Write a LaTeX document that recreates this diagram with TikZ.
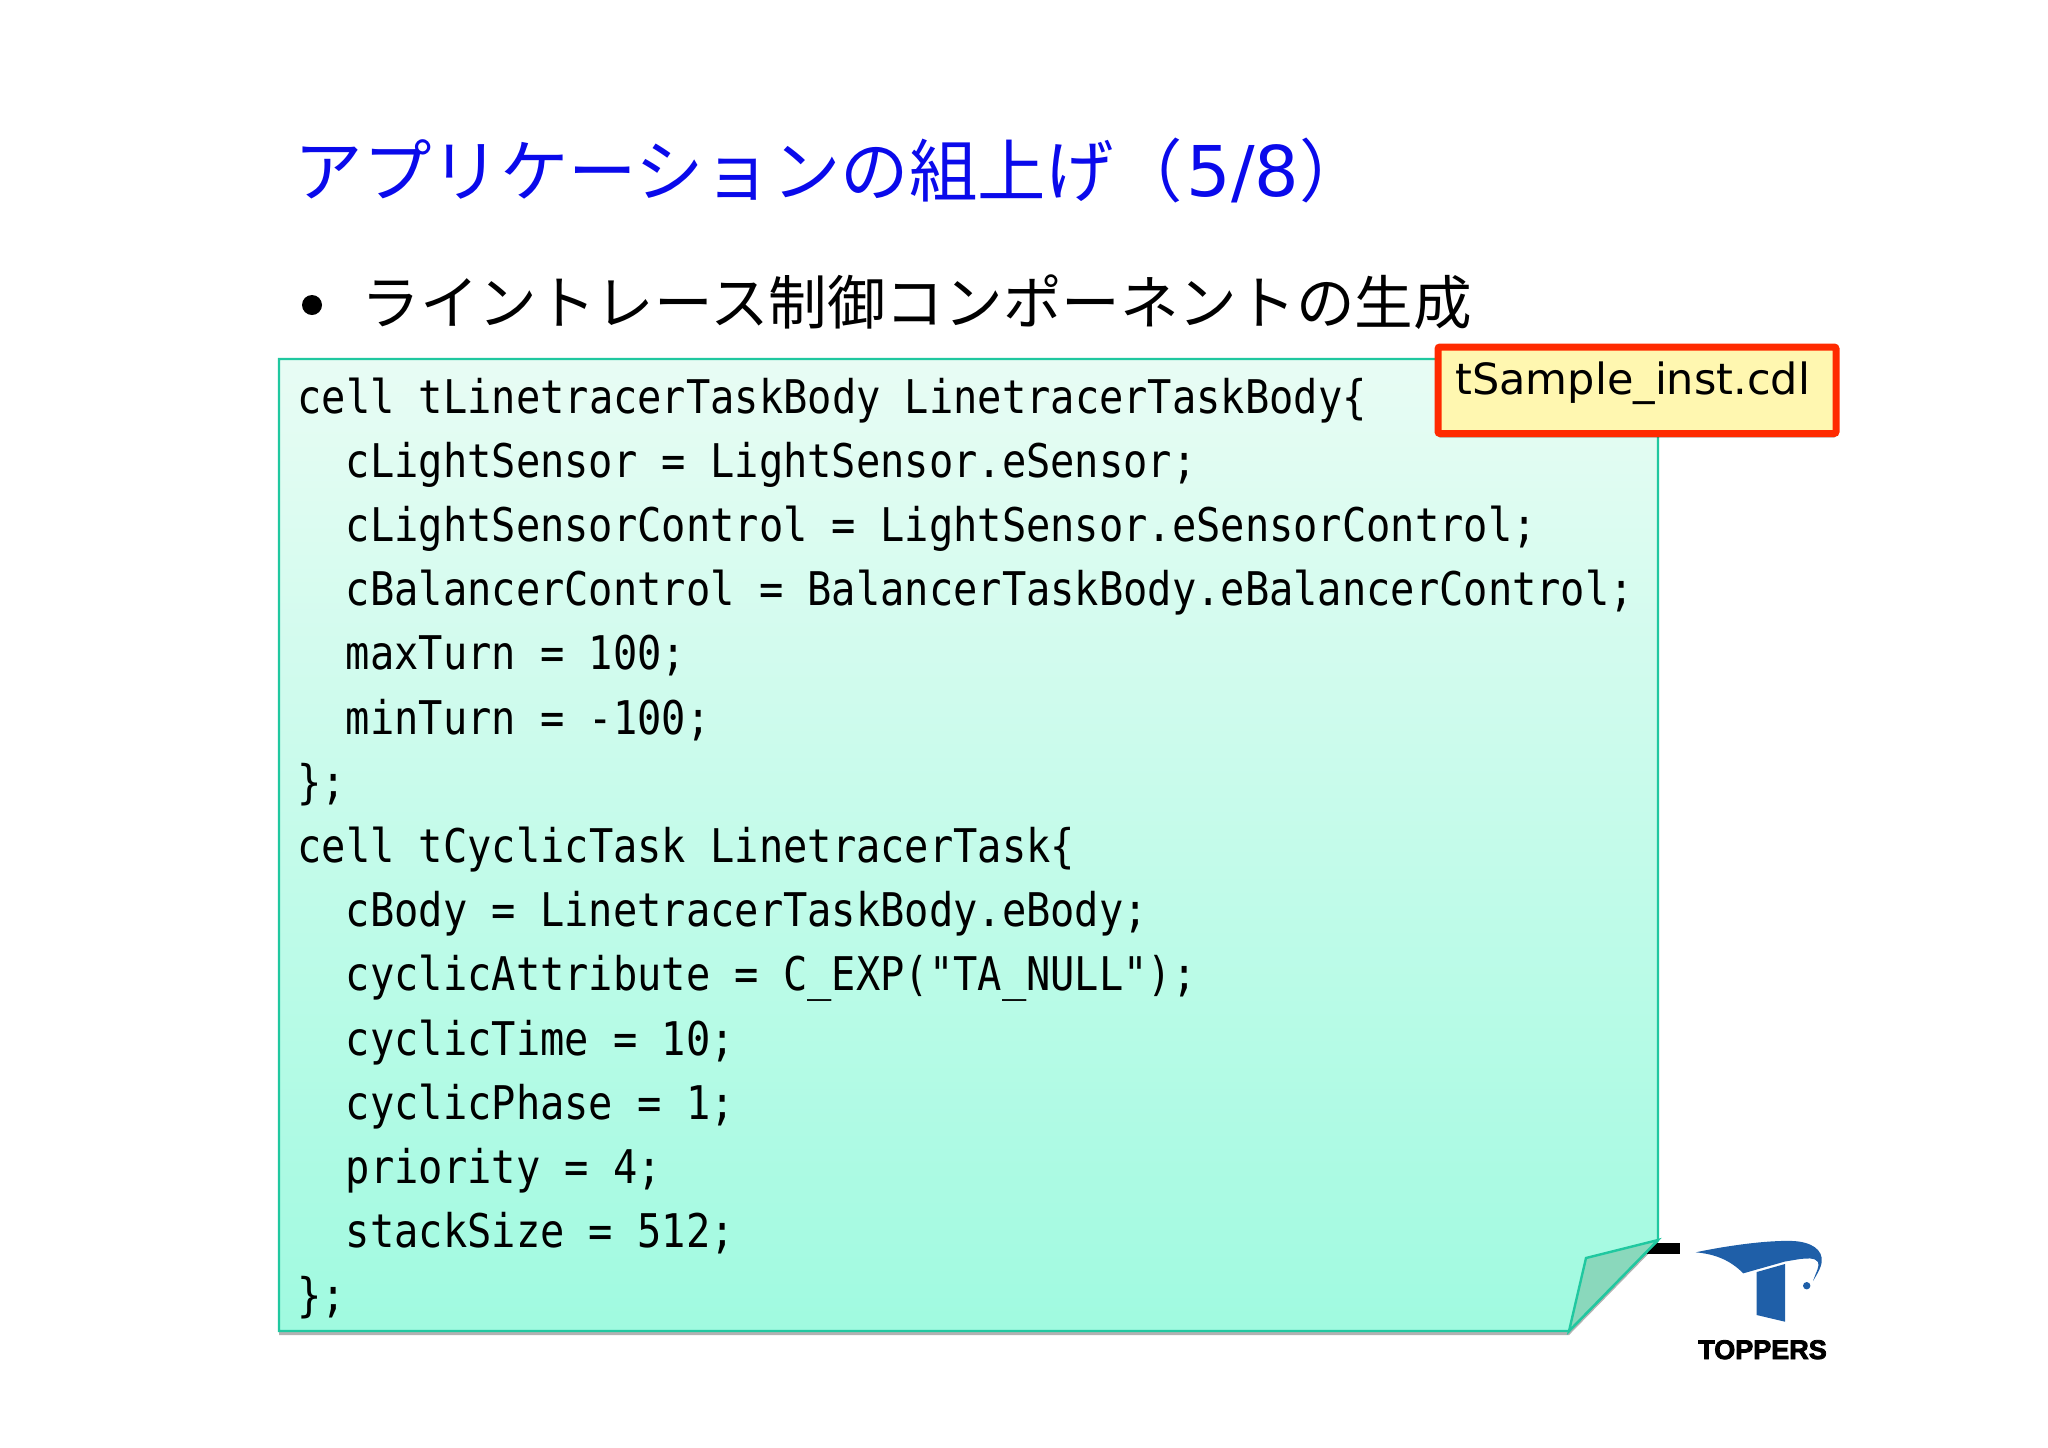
\documentclass[tikz,border=0pt]{standalone}
\usepackage{fontspec}
\usetikzlibrary{shadows}
\newfontfamily\cjkfont{Noto Sans CJK JP}
\newfontfamily\uifont{DejaVu Sans}
\newfontfamily\codefont[FakeStretch=0.87]{DejaVu Sans Mono}
\newfontfamily\logofont[FakeBold=3]{Liberation Sans Bold}
\definecolor{titleblue}{RGB}{10,10,235}
\definecolor{sheetedge}{RGB}{32,200,160}
\definecolor{sheettop}{RGB}{232,252,244}
\definecolor{sheetbottom}{RGB}{160,250,224}
\definecolor{foldfill}{RGB}{138,216,188}
\definecolor{noteedge}{RGB}{255,42,0}
\definecolor{notefill}{RGB}{255,247,176}
\definecolor{logoblue}{RGB}{31,95,168}
\tikzset{
    codeline/.style = {anchor = base west, inner sep = 0, font = \codefont\fontsize{23.2}{24}\selectfont},
    softshadow/.style = {drop shadow = {shadow xshift = 0pt, shadow yshift = -2pt, opacity = 0.3, fill = black}},
}
\begin{document}
\begin{tikzpicture}[x = 0.5pt, y = -0.5pt]
    \useasboundingbox (0, 0) rectangle (2048, 1447);
    \node[anchor = base west, inner sep = 0, text = titleblue, font = \cjkfont\fontsize{34.2}{34}\selectfont] (title) at (294.5, 196)
        {アプリケーションの組上げ（\hspace{2pt}{\uifont\fontsize{35}{36}\selectfont 5/8}）};
    \fill (312, 305) circle [radius = 10];
    \node[anchor = base west, inner sep = 0, font = \cjkfont\fontsize{29.3}{29}\selectfont] (heading) at (361, 324)
        {ライントレース制御コンポーネントの生成};
    % black bar behind the folded corner
    \fill (1640, 1243) rectangle (1680, 1254);
    % sheet with its fold
    \draw[sheetedge, line width = 1.2pt, top color = sheettop, bottom color = sheetbottom, softshadow]
        (279, 359) -- (1658, 359) -- (1658, 1240) -- (1569, 1331) -- (279, 1331) -- cycle;
    \draw[sheetedge, line width = 1.2pt, fill = foldfill] (1658, 1240) -- (1586, 1258) -- (1569, 1331) -- cycle;
    \foreach \x/\i/\line in {
        297/0/{cell tLinetracerTaskBody LinetracerTaskBody\{},
        345.5/1/{cLightSensor = LightSensor.eSensor;},
        345.5/2/{cLightSensorControl = LightSensor.eSensorControl;},
        345.5/3/{cBalancerControl = BalancerTaskBody.eBalancerControl;},
        345.5/4/{maxTurn = 100;},
        345.5/5/{minTurn = -100;},
        297/6/{\};},
        297/7/{cell tCyclicTask LinetracerTask\{},
        345.5/8/{cBody = LinetracerTaskBody.eBody;},
        345.5/9/{cyclicAttribute = C\_EXP("TA\_NULL");},
        345.5/10/{cyclicTime = 10;},
        345.5/11/{cyclicPhase = 1;},
        345.5/12/{priority = 4;},
        345.5/13/{stackSize = 512;},
        297/14/{\};}} {
        \node[codeline] (line\i) at (\x, 413 + 64.2 * \i) {\line};
    }
    % file name tag
    \draw[noteedge, line width = 3.5pt, fill = notefill, rounded corners = 1pt, softshadow] (1438, 347) rectangle (1836, 433.5);
    \node[anchor = base west, inner sep = 0, font = \uifont\fontsize{21.5}{22}\selectfont] (filename) at (1455, 394) {tSample\_inst.cdl};
    % logo
    \fill[logoblue] (1695.7, 1252.3) .. controls (1730, 1245) and (1770, 1240) .. (1793.3, 1241)
        .. controls (1812, 1242) and (1823, 1250) .. (1821.7, 1262) .. controls (1821, 1268) and (1816, 1276) .. (1813, 1281)
        .. controls (1816, 1272) and (1820, 1266) .. (1818, 1262) .. controls (1815, 1257) and (1806, 1258.5) .. (1800, 1259)
        -- (1785, 1261.5) -- (1743.3, 1273.3) .. controls (1730, 1260) and (1715, 1254) .. cycle;
    \fill[logoblue] (1756.7, 1272) -- (1785, 1264) -- (1785, 1321.7) -- (1756.7, 1315) -- cycle;
    \fill[logoblue] (1806.7, 1285.7) circle [radius = 3.7];
    \node[anchor = base, inner sep = 0, font = \logofont\fontsize{13.5}{13.5}\selectfont] (logotext) at (1762.5, 1359) {TOPPERS};
\end{tikzpicture}
\end{document}
